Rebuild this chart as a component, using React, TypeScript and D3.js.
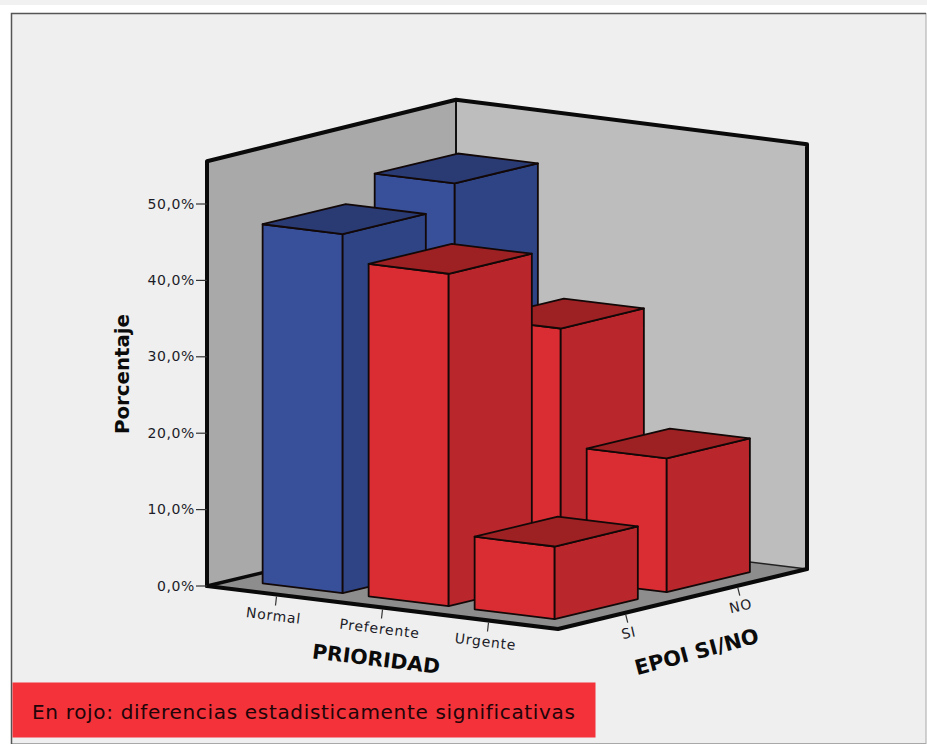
import React from "react";
import * as d3 from "d3";

// Share of patients by priority level and EPOI group (percent)
const categories = ["Normal", "Preferente", "Urgente"];
const groups = ["SI", "NO"];
const valuesSi = [47.0, 43.5, 9.5];
const valuesNo = [50.1, 32.8, 17.5];
const valueTicks = [0, 10, 20, 30, 40, 50];
const axisMax = 55.6;
const backCornerMax = 55.8;

const red = { front: "#d92d33", side: "#b9262c", top: "#9d2023" };
const blue = { front: "#384f99", side: "#2e4484", top: "#2a3a73" };
// Normal is the one priority level without a significant difference
const blueCategories = new Set(["Normal"]);

// Oblique projection of the plot cube onto the page
const origin: [number, number] = [207, 586];
const xEdge: [number, number] = [351, 43];
const zEdge: [number, number] = [249, -60];
const heightScale = d3.scaleLinear().domain([0, 50]).range([0, 382]);
const xScale = d3.scalePoint<string>().domain(categories).range([0.198, 0.802]);
const zScale = d3.scalePoint<string>().domain(groups).range([0.272, 0.722]);
const barHalfX = 0.114;
const barHalfZ = 0.167;

function project(x: number, z: number, v: number): [number, number] {
  return [
    origin[0] + x * xEdge[0] + z * zEdge[0],
    origin[1] + x * xEdge[1] + z * zEdge[1] - heightScale(v),
  ];
}

const ring = d3.line<[number, number]>().curve(d3.curveLinearClosed);
const open = d3.line<[number, number]>();
const fmt = (v: number) => `${v.toFixed(1).replace(".", ",")}%`;

type Bar = { cat: string; grp: string; value: number };
const bars: Bar[] = [
  ...categories.map((cat, i) => ({ cat, grp: "SI", value: valuesSi[i] })),
  ...categories.map((cat, i) => ({ cat, grp: "NO", value: valuesNo[i] })),
].sort(
  (a, b) =>
    (xScale(a.cat)! - zScale(a.grp)!) - (xScale(b.cat)! - zScale(b.grp)!)
);

function Bar3D({ bar }: { bar: Bar }) {
  const cx = xScale(bar.cat)!;
  const cz = zScale(bar.grp)!;
  const x0 = cx - barHalfX;
  const x1 = cx + barHalfX;
  const z0 = cz - barHalfZ;
  const z1 = cz + barHalfZ;
  const v = bar.value;
  const c = blueCategories.has(bar.cat) ? blue : red;
  const stroke = { stroke: "#120808", strokeWidth: 1.8, strokeLinejoin: "round" as const };
  return (
    <g>
      <path
        d={ring([project(x0, z0, 0), project(x1, z0, 0), project(x1, z0, v), project(x0, z0, v)])!}
        fill={c.front}
        {...stroke}
      />
      <path
        d={ring([project(x1, z0, 0), project(x1, z1, 0), project(x1, z1, v), project(x1, z0, v)])!}
        fill={c.side}
        {...stroke}
      />
      <path
        d={ring([project(x0, z0, v), project(x1, z0, v), project(x1, z1, v), project(x0, z1, v)])!}
        fill={c.top}
        {...stroke}
      />
    </g>
  );
}

const sans = "'DejaVu Sans', sans-serif";
const labelColor = "#1c1c28";

export default function App() {
  const wallStroke = { fill: "none", stroke: "#0a0a0a", strokeLinecap: "round" as const, strokeLinejoin: "round" as const };
  const backTop = project(0, 1, backCornerMax);
  return (
    <svg
      width={927}
      height={745}
      style={{ position: "absolute", left: 0, top: 0, display: "block" }}
      fontFamily={sans}
    >
      <rect x={0} y={0} width={927} height={745} fill="#ffffff" />
      <rect x={0} y={0} width={927} height={5} fill="#f1f1f1" />
      <rect x={11.5} y={13.5} width={914.5} height={730} fill="#efefef" stroke="#a8a8a8" strokeWidth={1} />
      <path d="M11.5 744V13.5H926" fill="none" stroke="#555" strokeWidth={1.5} />

      {/* floor and the two back walls */}
      <path d={ring([project(0, 0, 0), project(1, 0, 0), project(1, 1, 0), project(0, 1, 0)])!} fill="#8d8d8d" />
      <path d={ring([project(0, 0, 0), project(0, 1, 0), backTop, project(0, 0, axisMax)])!} fill="#a9a9a9" />
      <path d={ring([project(0, 1, 0), project(1, 1, 0), project(1, 1, axisMax), backTop])!} fill="#bdbdbd" />
      <path d={open([project(0, 1, 0), backTop])!} stroke="#111" strokeWidth={2} fill="none" />
      <path d={open([project(0, 1, 0), project(1, 1, 0)])!} stroke="#222" strokeWidth={1.4} fill="none" />
      <path d={open([project(0, 0, 0), project(0, 1, 0)])!} {...wallStroke} strokeWidth={3.4} />
      <path
        d={open([project(0, 0, 0), project(0, 0, axisMax), backTop, project(1, 1, axisMax), project(1, 1, 0)])!}
        {...wallStroke}
        strokeWidth={4}
      />
      <path
        d={open([project(0, 0, 0), project(1, 0, 0), project(1, 1, 0)])!}
        {...wallStroke}
        strokeWidth={4}
      />

      {bars.map((b) => (
        <Bar3D key={`${b.cat}-${b.grp}`} bar={b} />
      ))}

      {/* percentage axis */}
      {valueTicks.map((t) => {
        const [px, py] = project(0, 0, t);
        return (
          <g key={t}>
            <line x1={px - 11} x2={px} y1={py} y2={py} stroke="#333" strokeWidth={1.2} />
            <text x={px - 12} y={py + 0.5} textAnchor="end" dominantBaseline="middle" fontSize={14} letterSpacing={0.6} fill={labelColor}>
              {fmt(t)}
            </text>
          </g>
        );
      })}
      <text
        transform="translate(123,374) rotate(-90)"
        textAnchor="middle"
        dominantBaseline="middle"
        fontSize={19.8}
        fontWeight="bold"
        fill="#0b0b0b"
      >
        Porcentaje
      </text>

      {/* priority axis */}
      {categories.map((c) => {
        const [px, py] = project(xScale(c)!, 0, 0);
        return (
          <g key={c}>
            <line x1={px} x2={px - 1} y1={py + 2} y2={py + 11} stroke="#333" strokeWidth={1.2} />
            <text
              transform={`translate(${px - 3},${py + 22}) rotate(7)`}
              textAnchor="middle"
              dominantBaseline="middle"
              fontSize={14}
              letterSpacing={0.8}
              fill={labelColor}
            >
              {c}
            </text>
          </g>
        );
      })}
      <text
        transform="translate(376,660) rotate(7)"
        textAnchor="middle"
        dominantBaseline="middle"
        fontSize={20.4}
        fontWeight="bold"
        fill="#0b0b0b"
      >
        PRIORIDAD
      </text>

      {/* EPOI axis */}
      {groups.map((g) => {
        const [px, py] = project(1, zScale(g)!, 0);
        return (
          <g key={g}>
            <line x1={px} x2={px + 2} y1={py + 2} y2={py + 10} stroke="#333" strokeWidth={1.2} />
            <text
              transform={`translate(${px + 3},${py + 21}) rotate(-13)`}
              textAnchor="middle"
              dominantBaseline="middle"
              fontSize={14}
              letterSpacing={0.6}
              fill={labelColor}
            >
              {g}
            </text>
          </g>
        );
      })}
      <text
        transform="translate(697,653) rotate(-15)"
        textAnchor="middle"
        dominantBaseline="middle"
        fontSize={20.8}
        fontWeight="bold"
        fill="#0b0b0b"
      >
        EPOI SI/NO
      </text>

      {/* significance note */}
      <rect x={12.5} y={682.5} width={583} height={55} fill="#f3323a" />
      <text x={32} y={713} dominantBaseline="middle" fontSize={20} letterSpacing={0.68} fill="#200408">
        En rojo: diferencias estadisticamente significativas
      </text>
    </svg>
  );
}
